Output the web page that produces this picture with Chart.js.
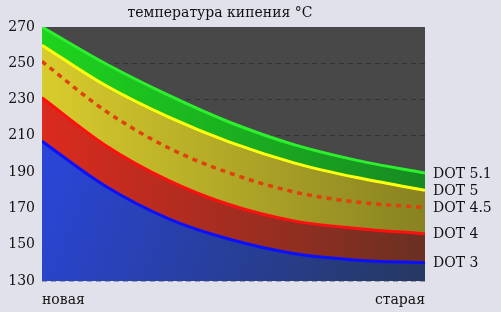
<!DOCTYPE html>
<html><head><meta charset="utf-8">
<script src="https://cdn.jsdelivr.net/npm/chart.js@4/dist/chart.umd.min.js"></script>
<style>html,body{margin:0;padding:0;background:#e1e1eb;}#wrap{width:501px;height:312px;}</style>
</head><body><div id="wrap"><canvas id="c" width="501" height="312"></canvas></div>
<script>
const titleText = 'температура кипения °C';
const xLabels = ['новая', 'старая'];
const xPos = [0, 16.4, 33.4, 49, 66, 82.2, 100];
const dot51 = [270, 250, 232, 217.5, 205, 196.5, 189.5];
const dot5  = [260, 238, 220, 206.5, 195, 187, 180];
const dot45 = [251, 224, 203, 189.5, 179, 173.5, 170.5];
const dot4  = [231, 205, 185, 172, 163, 159, 156];
const dot3  = [207, 182.5, 164, 153, 145, 141.5, 140];
const seriesNames = ['DOT 5.1', 'DOT 5', 'DOT 4.5', 'DOT 4', 'DOT 3'];
const yTicks = [130, 150, 170, 190, 210, 230, 250, 270];

const pts = arr => arr.map((v, i) => ({x: xPos[i], y: v}));
const FONT = "'DejaVu Serif', serif";

function hGrad(ctx, c1, c2) {
  const ca = ctx.chart.chartArea;
  if (!ca) return c1;
  const g = ctx.chart.ctx.createLinearGradient(ca.left, 0, ca.right, 0);
  g.addColorStop(0, c1); g.addColorStop(1, c2);
  return g;
}
function dGrad(ctx, c1, c2) {
  const ca = ctx.chart.chartArea;
  if (!ca) return c1;
  const g = ctx.chart.ctx.createLinearGradient(ca.left, ca.top + 100, ca.right, ca.bottom);
  g.addColorStop(0, c1); g.addColorStop(1, c2);
  return g;
}

const bgPlugin = {
  id: 'bg',
  beforeDraw(chart) {
    const {ctx, chartArea: ca} = chart;
    ctx.save();
    ctx.fillStyle = '#e1e1eb';
    ctx.fillRect(0, 0, chart.width, chart.height);
    ctx.fillStyle = '#484848';
    ctx.fillRect(ca.left, ca.top, ca.right - ca.left, ca.bottom - ca.top);
    ctx.restore();
  },
  afterDraw(chart) {
    const {ctx, chartArea: ca} = chart;
    ctx.save();
    ctx.fillStyle = '#111';
    ctx.font = "14px " + FONT;
    ctx.textBaseline = 'middle';
    ctx.textAlign = 'center';
    ctx.fillText(titleText, 220, 13);
    ctx.textAlign = 'left';
    chart.data.datasets.forEach((ds, i) => {
      const meta = chart.getDatasetMeta(i);
      const last = meta.data[meta.data.length - 1];
      ctx.fillText(seriesNames[i], ca.right + 8, last.y + 1);
    });
    ctx.restore();
  }
};

new Chart(document.getElementById('c'), {
  type: 'line',
  data: {
    datasets: [
      {label: seriesNames[0], data: pts(dot51), borderColor: '#2cf02c', borderWidth: 3,
       fill: '+1', backgroundColor: c => hGrad(c, '#1ed41e', '#178a22')},
      {label: seriesNames[1], data: pts(dot5), borderColor: '#ffff10', borderWidth: 3,
       fill: 3, backgroundColor: c => hGrad(c, '#d8cc2c', '#888222')},
      {label: seriesNames[2], data: pts(dot45), borderColor: '#e0400c', borderWidth: 3.5,
       borderDash: [5, 5], fill: false},
      {label: seriesNames[3], data: pts(dot4), borderColor: '#ff1010', borderWidth: 3,
       fill: '+1', backgroundColor: c => hGrad(c, '#dc2a1e', '#6a3022')},
      {label: seriesNames[4], data: pts(dot3), borderColor: '#0a10ff', borderWidth: 3,
       fill: 'start', backgroundColor: c => dGrad(c, '#2a46dc', '#263860')}
    ]
  },
  options: {
    responsive: false,
    animation: false,
    layout: {padding: {top: 27, right: 76, left: 0, bottom: 0}},
    elements: {point: {radius: 0}, line: {cubicInterpolationMode: 'monotone'}},
    plugins: {legend: {display: false}, tooltip: {enabled: false}, title: {display: false},
              filler: {drawTime: 'beforeDatasetsDraw'}},
    scales: {
      x: {
        type: 'linear', min: 0, max: 100,
        afterBuildTicks: s => { s.ticks = [{value: 0}, {value: 100}]; },
        afterFit: s => { s.height = 31; },
        grid: {display: false}, border: {display: false},
        ticks: {align: 'inner', padding: 3, color: '#111', font: {family: FONT, size: 14},
                callback: v => v === 0 ? xLabels[0] : xLabels[1], maxRotation: 0}
      },
      y: {
        min: 130, max: 270, z: 1,
        afterBuildTicks: s => { s.ticks = yTicks.map(v => ({value: v})); },
        afterFit: s => { s.width = 42; },
        border: {display: false, dash: [5, 4]},
        grid: {color: c => c.tick && c.tick.value === 270 ? 'rgba(0,0,0,0)' : 'rgba(0,0,0,0.3)',
               lineWidth: 1, drawTicks: false},
        ticks: {padding: 7, color: '#111', font: {family: FONT, size: 14}}
      }
    }
  },
  plugins: [bgPlugin]
});
</script></body></html>
